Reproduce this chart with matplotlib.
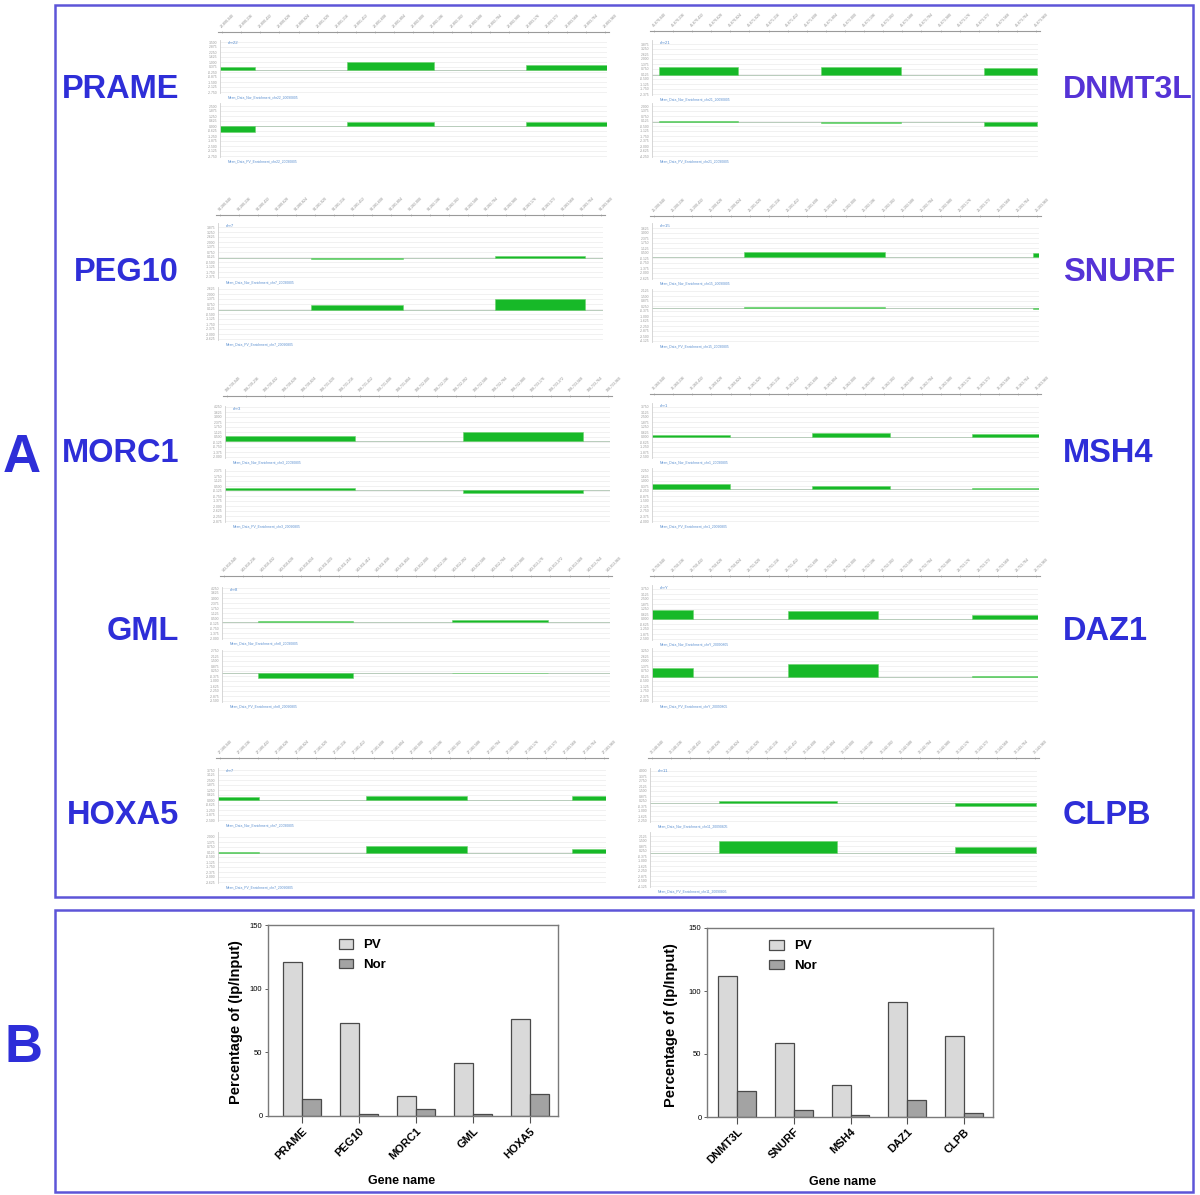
import matplotlib
matplotlib.use("Agg")
import matplotlib.pyplot as plt
import numpy as np
from matplotlib.patches import Rectangle

plt.rcParams['font.family'] = ['Liberation Sans', 'DejaVu Sans']

W, H = 1200, 1195

# ---------------- data ----------------
genes_left = ["PRAME", "PEG10", "MORC1", "GML", "HOXA5"]
genes_right = ["DNMT3L", "SNURF", "MSH4", "DAZ1", "CLPB"]

pv_left = [120.7, 72.7, 15.7, 41.7, 75.9]
nor_left = [13.6, 1.8, 5.8, 1.8, 17.1]
pv_right = [111.6, 58.7, 25.1, 91.0, 64.0]
nor_right = [20.9, 5.3, 1.9, 13.2, 3.2]

# genome-browser tracks: segment start/end (% of window) and signal
seg_start = {
    "PRAME": [0, 32.8, 79.1], "PEG10": [24.2, 71.9], "MORC1": [0, 61.8],
    "GML": [9.3, 59.3], "HOXA5": [0, 38.1, 91.2],
    "DNMT3L": [1.8, 43.8, 86.0], "SNURF": [23.8, 98.4], "MSH4": [0, 41.3, 82.7],
    "DAZ1": [0, 35.2, 82.9], "CLPB": [17.8, 78.8],
}
seg_end = {
    "PRAME": [9.0, 55.3, 100], "PEG10": [48.1, 95.3], "MORC1": [33.8, 93.0],
    "GML": [33.8, 84.0], "HOXA5": [10.6, 64.2, 100],
    "DNMT3L": [22.3, 64.5, 99.7], "SNURF": [60.2, 100], "MSH4": [20.2, 61.5, 100],
    "DAZ1": [10.6, 58.5, 100], "CLPB": [48.3, 99.7],
}
track1_signal = {
    "PRAME": [3.3, 8.0, 5.0], "PEG10": [-0.8, 2.0], "MORC1": [5.0, 9.0],
    "GML": [1.5, 2.5], "HOXA5": [3.5, 4.5, 4.5],
    "DNMT3L": [8.0, 8.0, 7.0], "SNURF": [5.5, 4.5], "MSH4": [2.5, 4.5, 3.5],
    "DAZ1": [9.0, 8.5, 4.5], "CLPB": [2.5, -2.5],
}
track2_signal = {
    "PRAME": [-5.5, 4.5, 4.5], "PEG10": [5.5, 11.0], "MORC1": [2.5, -3.0],
    "GML": [-5.0, 0.0], "HOXA5": [1.0, 7.0, 4.5],
    "DNMT3L": [1.0, -0.8, -4.0], "SNURF": [1.0, -1.0], "MSH4": [5.0, 3.5, 0.8],
    "DAZ1": [9.5, 13.0, 0.8], "CLPB": [12.0, 6.5],
}
chrom = {"PRAME": "chr22", "PEG10": "chr7", "MORC1": "chr3", "GML": "chr8",
         "HOXA5": "chr7", "DNMT3L": "chr21", "SNURF": "chr15", "MSH4": "chr1",
         "DAZ1": "chrY", "CLPB": "chr11"}
window_start = {"PRAME": 22890000, "PEG10": 94280000, "MORC1": 108720000,
                "GML": 143910000, "HOXA5": 27180000, "DNMT3L": 45670000,
                "SNURF": 25200000, "MSH4": 76260000, "DAZ1": 23750000,
                "CLPB": 72140000}

# ---------------- layout (pixels) ----------------
# left, right, axis line y, (track1 top, base, bottom), (track2 top, base, bottom)
layout = {
    "PRAME": (220, 607, 33, (40, 70, 93), (103, 126, 157)),
    "PEG10": (218, 603, 216, (223, 258, 278), (287, 310, 340)),
    "MORC1": (225, 610, 397, (406, 441, 458), (469, 490, 522)),
    "GML": (222, 610, 577, (587, 622, 639), (650, 673, 702)),
    "HOXA5": (218, 606, 759, (768, 800, 821), (832, 853, 883)),
    "DNMT3L": (652, 1038, 32, (40, 75, 95), (103, 122, 157)),
    "SNURF": (652, 1039, 217, (223, 257, 279), (289, 308, 342)),
    "MSH4": (652, 1039, 395, (403, 437, 458), (468, 489, 522)),
    "DAZ1": (652, 1038, 577, (585, 619, 640), (648, 677, 702)),
    "CLPB": (650, 1037, 759, (768, 803, 822), (832, 853, 887)),
}
label_y = [90, 272, 453, 632, 816]

fig = plt.figure(figsize=(12, 11.95), dpi=100)


def rect(x0, y0, x1, y1):
    return [x0 / W, 1 - y1 / H, (x1 - x0) / W, (y1 - y0) / H]


GREEN = "#17b928"
BLUE = "#2e2ed8"
VIOLET = "#5533d6"
FRAME = "#5d55d8"

for gene in genes_left + genes_right:
    left, right, axy, t1, t2 = layout[gene]
    # header with rotated coordinate labels
    hx = fig.add_axes(rect(left - 2, axy - 1, right + 2, axy))
    hx.set_xlim(0, 100)
    hx.set_ylim(0, 1)
    for s in ["left", "right", "bottom"]:
        hx.spines[s].set_visible(False)
    hx.spines["top"].set_color("#9a9a9a")
    hx.spines["top"].set_linewidth(0.8)
    hx.set_yticks([])
    pos = np.linspace(1, 99, 21)
    hx.xaxis.set_ticks_position("top")
    hx.set_xticks(pos)
    labs = ["{:,}".format(window_start[gene] + int(p * 40)) for p in pos]
    hx.set_xticklabels(labs, rotation=45, ha="left", va="bottom",
                       rotation_mode="anchor", fontsize=2.6, color="#8a8a8a")
    hx.tick_params(axis="x", direction="inout", length=2, width=0.4,
                   color="#9a9a9a", pad=1.5)
    hx.patch.set_alpha(0)

    starts = np.array(seg_start[gene])
    ends = np.array(seg_end[gene])
    for k, ((top, base, bottom), sig) in enumerate(
            [(t1, track1_signal[gene]), (t2, track2_signal[gene])]):
        ax = fig.add_axes(rect(left, top, right, bottom))
        lo, hi = -(bottom - base), base - top
        ax.set_xlim(0, 100)
        ax.set_ylim(lo, hi)
        yt = np.arange(lo + 1, hi, 5.0)
        ax.set_yticks(yt)
        ax.set_yticklabels(["{:.3f}".format(v / 8.0) for v in yt],
                           fontsize=2.4, color="#9a9a9a")
        ax.tick_params(axis="y", length=0, pad=2)
        ax.set_xticks([])
        ax.yaxis.grid(True, color="#ececec", lw=0.5)
        ax.set_axisbelow(True)
        for s in ["top", "right", "bottom"]:
            ax.spines[s].set_visible(False)
        ax.spines["left"].set_color("#d0d0d0")
        ax.spines["left"].set_linewidth(0.6)
        ax.axhline(0, color="#b8ccbb", lw=0.7, zorder=1)
        ax.bar(starts, sig, width=ends - starts, align="edge", color=GREEN,
               edgecolor="#6cd46f", linewidth=0.4, zorder=2)
        if k == 0:
            ax.text(0.02, 0.99, chrom[gene], transform=ax.transAxes,
                    fontsize=3.2, color="#5a8fd0", ha="left", va="top")
        ax.text(0.02, -0.04,
                "Mean_Data_{}_Enrichment_{}_20090805".format(
                    "Nor" if k == 0 else "PV", chrom[gene]),
                transform=ax.transAxes, fontsize=2.4, color="#5a8fd0",
                ha="left", va="top")

# gene names
for i, g in enumerate(genes_left):
    fig.text(179 / W, 1 - label_y[i] / H, g, fontsize=23.5, weight="bold",
             color=BLUE, ha="right", va="center")
for i, g in enumerate(genes_right):
    fig.text(1063 / W, 1 - label_y[i] / H, g, fontsize=23.5 if i else 23,
             weight="bold", color=VIOLET if i < 2 else BLUE, ha="left",
             va="center")

# frames and panel letters
fig.add_artist(Rectangle((55 / W, 1 - 897 / H), (1193 - 55) / W, (897 - 5) / H,
                         transform=fig.transFigure, fill=False,
                         edgecolor=FRAME, lw=1.8))
fig.add_artist(Rectangle((55 / W, 1 - 1192 / H), (1193 - 55) / W,
                         (1192 - 910) / H, transform=fig.transFigure,
                         fill=False, edgecolor=FRAME, lw=1.8))
fig.text(22 / W, 1 - 458 / H, "A", fontsize=38, weight="bold", color=BLUE,
         ha="center", va="center")
fig.text(24 / W, 1 - 1048 / H, "B", fontsize=38, weight="bold", color=BLUE,
         ha="center", va="center")

# ---------------- bar charts ----------------
def bar_chart(r, genes, pv, nor, xlim, leg_anchor, xlab_x, ylab_x, ylab_y):
    ax = fig.add_axes(r)
    x = np.arange(len(genes))
    w = 0.333
    ax.bar(x - w / 2, pv, w, color="#d9d9d9", edgecolor="#4a4a4a", lw=0.9,
           label="PV")
    ax.bar(x + w / 2, nor, w, color="#a3a3a3", edgecolor="#4a4a4a", lw=0.9,
           label="Nor")
    ax.set_xlim(*xlim)
    ax.set_ylim(0, 150)
    ax.set_yticks([0, 50, 100, 150])
    ax.set_xticks(x)
    ax.set_xticklabels(genes, rotation=45, ha="right", rotation_mode="anchor",
                       fontsize=8, weight="bold")
    ax.tick_params(axis="y", labelsize=5.5, length=2.5, width=0.7,
                   color="#606060", pad=1.5)
    ax.tick_params(axis="x", length=5, width=0.8, color="#505050", pad=2)
    for s in ax.spines.values():
        s.set_color("#7a7a7a")
        s.set_linewidth(1.0)
    ax.set_ylabel("Percentage of (Ip/Input)", fontsize=10.5, weight="bold")
    ax.yaxis.set_label_coords(ylab_x, ylab_y)
    ax.set_xlabel("Gene name", fontsize=9, weight="bold", va="top")
    ax.xaxis.set_label_coords(xlab_x, -0.31)
    ax.legend(loc="upper left", bbox_to_anchor=leg_anchor, frameon=False,
              prop={"weight": "bold", "size": 9.5}, handlelength=1.1,
              handleheight=0.75, labelspacing=0.55, handletextpad=0.8,
              borderaxespad=0)
    return ax


bar_chart(rect(268, 925, 558, 1116), genes_left, pv_left, nor_left,
          (-0.6, 4.49), (0.225, 0.955), 0.46, -0.085, 0.49)
bar_chart(rect(707, 928, 993, 1117), genes_right, pv_right, nor_right,
          (-0.53, 4.51), (0.2, 0.965), 0.475, -0.1, 0.487)

fig.savefig("out.png", dpi=100)
